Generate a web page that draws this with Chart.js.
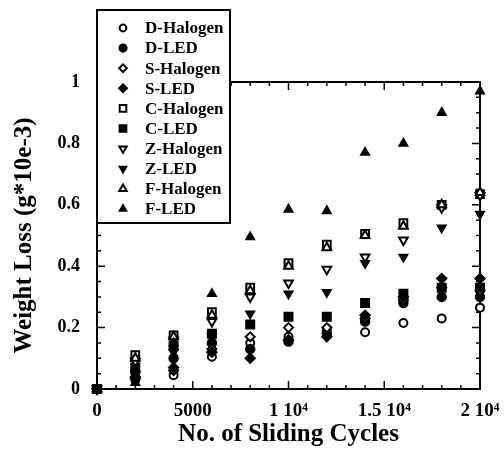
<!DOCTYPE html>
<html>
<head>
<meta charset="utf-8">
<script src="https://cdn.jsdelivr.net/npm/chart.js@4.4.1/dist/chart.umd.min.js"></script>
<style>
html, body { margin: 0; padding: 0; background: #fff; }
#wrap { width: 504px; height: 450px; }
</style>
</head>
<body>
<div id="wrap"><canvas id="chart"></canvas></div>
<script>
const cycles = [0, 2000, 4000, 6000, 8000, 10000, 12000, 14000, 16000, 18000, 20000];

const dHalogen = [0, 0.03, 0.045, 0.105, 0.15, 0.17, 0.19, 0.185, 0.215, 0.23, 0.265];
const dLed     = [0, 0.055, 0.10, 0.15, 0.13, 0.155, 0.18, 0.22, 0.28, 0.30, 0.30];
const sHalogen = [0, 0.04, 0.06, 0.13, 0.17, 0.20, 0.20, 0.23, 0.29, 0.33, 0.32];
const sLed     = [0, 0.035, 0.07, 0.12, 0.10, 0.16, 0.17, 0.24, 0.30, 0.36, 0.36];
const cHalogen = [0, 0.11, 0.175, 0.25, 0.33, 0.41, 0.47, 0.505, 0.54, 0.60, 0.635];
const cLed     = [0, 0.07, 0.14, 0.18, 0.21, 0.235, 0.235, 0.28, 0.31, 0.33, 0.33];
const zHalogen = [0, 0.09, 0.16, 0.22, 0.30, 0.345, 0.39, 0.43, 0.485, 0.59, 0.63];
const zLed     = [0, 0.05, 0.12, 0.17, 0.245, 0.31, 0.315, 0.41, 0.43, 0.525, 0.57];
const fHalogen = [0, 0.10, 0.17, 0.24, 0.32, 0.40, 0.46, 0.50, 0.53, 0.60, 0.64];
const fLed     = [0, 0.02, 0.15, 0.31, 0.495, 0.585, 0.58, 0.77, 0.80, 0.90, 0.97];

const seriesLabels = ['D-Halogen', 'D-LED', 'S-Halogen', 'S-LED', 'C-Halogen',
                      'C-LED', 'Z-Halogen', 'Z-LED', 'F-Halogen', 'F-LED'];
const seriesValues = [dHalogen, dLed, sHalogen, sLed, cHalogen,
                      cLed, zHalogen, zLed, fHalogen, fLed];

const xTickValues = [0, 5000, 10000, 15000, 20000];
const xTickLabels = ['0', '5000', '1 10\u2074', '1.5 10\u2074', '2 10\u2074'];
const yTickValues = [0, 0.2, 0.4, 0.6, 0.8, 1];
const yTickLabels = ['0', '0.2', '0.4', '0.6', '0.8', '1'];

// marker look per series: [pointStyle, rotation, radius, filled]
const markers = [
    ['circle', 0, 4, false], ['circle', 0, 4.5, true],
    ['rectRot', 0, 4.5, false], ['rectRot', 0, 5, true],
    ['rect', 0, 5.5, false], ['rect', 0, 6, true],
    ['triangle', 180, 5, false], ['triangle', 180, 5, true],
    ['triangle', 0, 5, false], ['triangle', 0, 5, true]
];

const SERIF = '"Liberation Serif", "DejaVu Serif", serif';

function labelFor(values, labels, v) {
    const i = values.findIndex(t => Math.abs(t - v) < 1e-6);
    return i >= 0 ? labels[i] : '';
}

const datasets = seriesLabels.map((name, i) => {
    const [style, rot, r, filled] = markers[i];
    return {
        label: name,
        data: cycles.map((c, k) => ({ x: c, y: seriesValues[i][k] })),
        order: seriesLabels.length - i,   // later series drawn on top
        pointStyle: style,
        rotation: rot,
        pointRadius: r,
        pointHoverRadius: r,
        borderColor: '#000',
        backgroundColor: filled ? '#000' : '#fff',
        borderWidth: filled ? 1.5 : 2,
        showLine: false,
        clip: false
    };
});

const framePlugin = {
    id: 'frame',
    beforeDatasetsDraw(chart) {
        const { ctx, chartArea: a, scales: { x, y } } = chart;
        ctx.save();
        ctx.strokeStyle = '#000';
        ctx.lineWidth = 2;
        ctx.strokeRect(a.left, a.top, a.right - a.left, a.bottom - a.top);
        ctx.lineWidth = 1.5;
        ctx.beginPath();
        x.ticks.forEach(t => {
            const px = x.getPixelForValue(t.value);
            const len = xTickValues.some(v => Math.abs(v - t.value) < 1e-6) ? 8 : 4;
            ctx.moveTo(px, a.bottom); ctx.lineTo(px, a.bottom - len);
            ctx.moveTo(px, a.top); ctx.lineTo(px, a.top + len);
        });
        y.ticks.forEach(t => {
            const py = y.getPixelForValue(t.value);
            const len = yTickValues.some(v => Math.abs(v - t.value) < 1e-6) ? 8 : 4;
            ctx.moveTo(a.left, py); ctx.lineTo(a.left + len, py);
            ctx.moveTo(a.right, py); ctx.lineTo(a.right - len, py);
        });
        ctx.stroke();
        ctx.restore();
    }
};

const legendPlugin = {
    id: 'boxLegend',
    afterDraw(chart) {
        const { ctx } = chart;
        const left = 97, top = 10, w = 133, h = 213;
        ctx.save();
        ctx.fillStyle = '#fff';
        ctx.fillRect(left, top, w, h);
        ctx.strokeStyle = '#000';
        ctx.lineWidth = 2;
        ctx.strokeRect(left, top, w, h);
        ctx.font = 'bold 17px ' + SERIF;
        ctx.textBaseline = 'middle';
        chart.data.datasets.forEach((ds, i) => {
            const yy = top + 18 + i * 20.1;
            ctx.fillStyle = ds.backgroundColor;
            ctx.strokeStyle = '#000';
            ctx.lineWidth = ds.borderWidth;
            Chart.helpers.drawPoint(ctx, {
                pointStyle: ds.pointStyle, rotation: ds.rotation,
                radius: ds.pointRadius * 0.85, borderWidth: ds.borderWidth
            }, left + 26, yy);
            ctx.fillStyle = '#000';
            ctx.fillText(ds.label, left + 48, yy + 1);
        });
        ctx.restore();
    }
};

new Chart(document.getElementById('chart'), {
    type: 'scatter',
    data: { datasets },
    options: {
        responsive: true,
        maintainAspectRatio: false,
        animation: false,
        events: [],
        layout: { padding: { left: 0, right: 24, top: 82, bottom: 0 } },
        plugins: { legend: { display: false }, tooltip: { enabled: false } },
        scales: {
            x: {
                type: 'linear',
                min: 0, max: 20000,
                afterFit: s => { s.height = 61; },
                grid: { display: false },
                border: { display: false },
                ticks: {
                    stepSize: 1000, autoSkip: false, maxRotation: 0,
                    padding: 3, color: '#000',
                    font: { family: SERIF, size: 19, weight: 'bold' },
                    callback: v => labelFor(xTickValues, xTickLabels, v)
                },
                title: {
                    display: true, text: 'No. of Sliding Cycles', color: '#000',
                    font: { family: SERIF, size: 25, weight: 'bold' },
                    padding: { top: 0, bottom: 0 }
                }
            },
            y: {
                type: 'linear',
                min: 0, max: 1,
                afterFit: s => { s.width = 97; },
                grid: { display: false },
                border: { display: false },
                ticks: {
                    stepSize: 0.05, autoSkip: false,
                    padding: 9, color: '#000',
                    font: { family: SERIF, size: 18, weight: 'bold' },
                    callback: v => labelFor(yTickValues, yTickLabels, v)
                },
                title: {
                    display: true, text: 'Weight Loss (g*10e-3)', color: '#000',
                    font: { family: SERIF, size: 25, weight: 'bold' },
                    padding: { top: 10, bottom: 0 }
                }
            }
        }
    },
    plugins: [framePlugin, legendPlugin]
});
</script>
</body>
</html>
